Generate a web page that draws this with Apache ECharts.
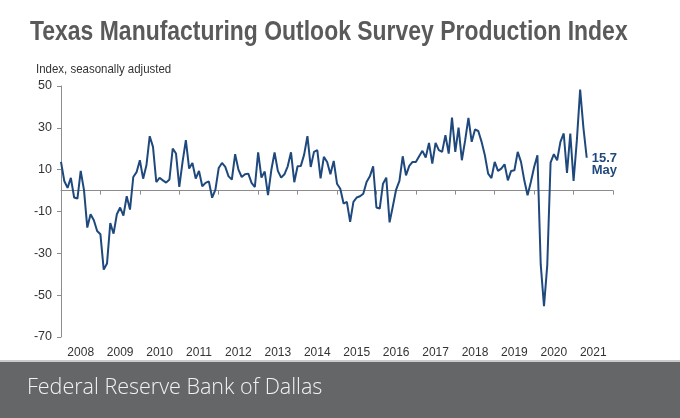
<!DOCTYPE html>
<html><head><meta charset="utf-8">
<script src="https://cdn.jsdelivr.net/npm/echarts@6/dist/echarts.min.js"></script>
<style>html,body{margin:0;padding:0;background:#fff}#c{width:680px;height:418px}</style>
</head><body><div id="c"></div>
<script>
// Tick labels
const years = ['2008','2009','2010','2011','2012','2013','2014','2015','2016','2017','2018','2019','2020','2021'];
const monthNames = ['Jan','Feb','Mar','Apr','May','Jun','Jul','Aug','Sep','Oct','Nov','Dec'];
// Monthly production index values (seasonally adjusted), by year
const v2008 = [13.7, 4.6, 1.3, 6.1, -3.3, -3.8, 9.4, 0.2, -17.7, -11.3, -14.2, -19.3];
const v2009 = [-20.9, -37.8, -34.9, -15.5, -20.6, -11.3, -8.1, -12.0, -2.7, -9.1, 6.5, 8.8];
const v2010 = [14.5, 5.7, 12.1, 26.0, 20.9, 4.1, 6.1, 4.9, 3.8, 5.3, 20.1, 17.7];
const v2011 = [1.8, 13.7, 24.1, 10.5, 13.2, 5.7, 9.4, 2.1, 3.7, 4.4, -3.4, 0.5];
const v2012 = [10.8, 13.2, 11.3, 6.8, 5.3, 17.4, 10.0, 6.5, 7.8, 8.1, 3.7, 1.7];
const v2013 = [18.3, 6.2, 9.1, -2.2, 9.7, 18.2, 9.4, 6.2, 7.8, 11.6, 18.3, 4.0];
const v2014 = [11.6, 11.8, 17.2, 26.0, 11.3, 18.5, 19.3, 5.8, 16.1, 13.7, 7.8, 14.2];
const v2015 = [3.3, 0.9, -6.2, -5.4, -15.0, -5.4, -3.3, -2.7, -1.5, 4.1, 6.8, 11.6];
const v2016 = [-8.1, -8.6, 3.3, 6.2, -15.2, -7.5, 0.5, 4.6, 16.4, 7.3, 11.8, 13.7];
const v2017 = [13.7, 16.4, 19.0, 15.8, 22.8, 12.9, 22.8, 19.3, 18.5, 26.5, 17.7, 34.9];
const v2018 = [18.5, 30.1, 14.5, 24.0, 34.8, 23.3, 29.2, 28.5, 23.3, 16.9, 8.1, 6.0];
const v2019 = [13.7, 9.4, 10.5, 12.6, 4.9, 9.4, 9.7, 18.5, 13.7, 4.9, -2.2, 4.1];
const v2020 = [11.3, 16.9, -35.3, -55.3, -35.5, 13.4, 17.4, 14.5, 23.3, 27.3, 8.4, 27.3];
const v2021 = [4.6, 24.0, 48.3, 30.0, 15.7];
const yearly = [v2008,v2009,v2010,v2011,v2012,v2013,v2014,v2015,v2016,v2017,v2018,v2019,v2020,v2021];

const seriesData = [];
yearly.forEach((arr, yi) => arr.forEach((v, mi) => seriesData.push([yi*12 + mi, v])));

const SANS = '"Liberation Sans", Arial, Helvetica, sans-serif';
const chart = echarts.init(document.getElementById('c'), null, {renderer:'canvas'});
chart.setOption({
  animation: false,
  backgroundColor: '#ffffff',
  graphic: [
    {type:'text', x: 30, y: 19, scaleX: 0.85, scaleY: 1,
     style:{text:'Texas Manufacturing Outlook Survey Production Index', font: 'bold 27px ' + SANS, fill:'#5a5a5a'}},
    {type:'text', x: 36, y: 62, scaleX: 0.85, scaleY: 1,
     style:{text:'Index, seasonally adjusted', font: '13.5px ' + SANS, fill:'#333'}},
    {type:'rect', x: 0, y: 360, shape:{width:680, height:2}, style:{fill:'#c9cbcc'}},
    {type:'rect', x: 0, y: 362, shape:{width:680, height:56}, style:{fill:'#646667'}},
    {type:'text', x: 27, y: 377, style:{text:'Federal Reserve Bank of Dallas', font: '300 21.5px "Open Sans", Lato, sans-serif', fill:'#f2f2f2'}}
  ],
  grid: {left: 61, right: 67, top: 86, bottom: 81, containLabel: false},
  xAxis: [
    {type:'value', min: 0, max: 168, interval: 12,
     axisLine:{show:true, onZero:true, lineStyle:{color:'#8c8c8c', width:1}},
     axisTick:{show:true, inside:false, length:4, lineStyle:{color:'#8c8c8c'}},
     axisLabel:{show:false}, splitLine:{show:false}},
    {type:'category', data: years, boundaryGap: true, position:'bottom',
     axisLine:{show:false, onZero:false}, axisTick:{show:false},
     axisLabel:{show:true, margin: 10, fontFamily: SANS, fontSize: 12, color:'#333'},
     splitLine:{show:false}}
  ],
  yAxis: {
    type:'value', min:-70, max:50, interval:20,
    axisLine:{show:true, lineStyle:{color:'#8c8c8c'}},
    axisTick:{show:true, inside:false, length:4, lineStyle:{color:'#8c8c8c'}},
    axisLabel:{margin: 9, fontFamily: SANS, fontSize: 12.5, color:'#333'},
    splitLine:{show:false}
  },
  series: [{
    type:'line', xAxisIndex:0, data: seriesData, symbol:'none', smooth:false,
    lineStyle:{color:'#1F497D', width:2},
    endLabel:{show:true, distance:5, offset:[0,7], align:'left',
      formatter: p => p.value[1].toFixed(1) + '\n' + monthNames[p.value[0] % 12],
      fontFamily: SANS, fontWeight:'bold', fontSize: 13, lineHeight: 12, color:'#1F497D'}
  }]
});
</script></body></html>
